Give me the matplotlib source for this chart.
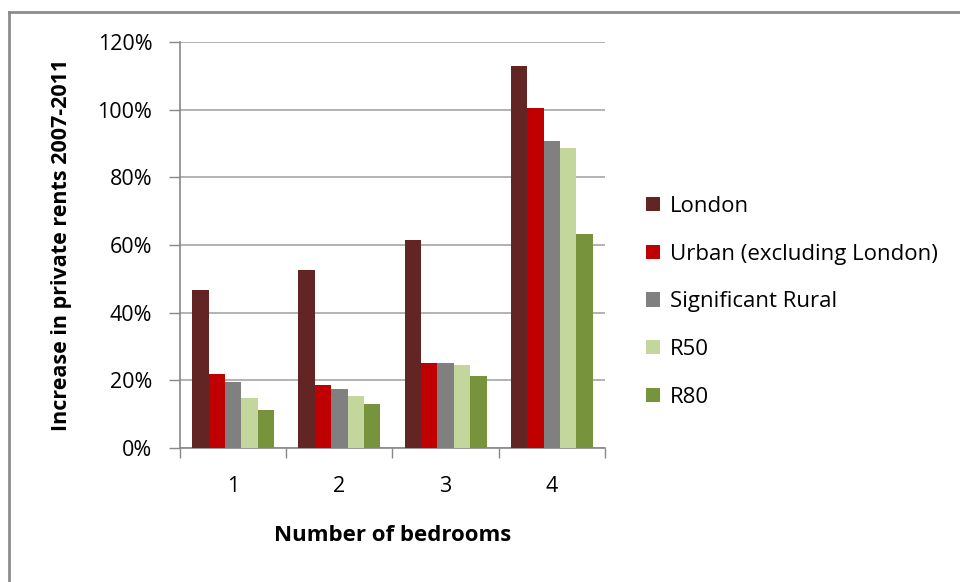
import numpy as np
import matplotlib.pyplot as plt
from matplotlib.lines import Line2D

plt.rcParams['font.family'] = ['Open Sans', 'DejaVu Sans']

bedrooms = ['1', '2', '3', '4']
series = ['London', 'Urban (excluding London)', 'Significant Rural', 'R50', 'R80']
london = [46.6, 52.7, 61.4, 113.0]
urban = [22.0, 18.6, 25.0, 100.5]
sig_rural = [19.4, 17.4, 25.0, 90.7]
r50 = [14.8, 15.5, 24.6, 88.8]
r80 = [11.3, 13.0, 21.3, 63.3]
colors = ['#632523', '#C00000', '#808080', '#C3D69B', '#77933C']

values = [london, urban, sig_rural, r50, r80]

fig = plt.figure(figsize=(9.6, 5.82), dpi=100)
ax = fig.add_axes([180 / 960, 1 - 448 / 582, 425 / 960, 406 / 582])

x = np.arange(len(bedrooms))
w = 0.154
for i, (name, vals, c) in enumerate(zip(series, values, colors)):
    ax.bar(x + (i - 2) * w, vals, width=w, color=c, label=name, zorder=3)

ax.set_xlim(-0.5, 3.5)
ax.set_ylim(0, 120)
ax.set_yticks(np.arange(0, 121, 20))
ax.set_yticklabels([f'{v}%' for v in range(0, 121, 20)])
ax.yaxis.grid(True, color='#a6a6a6', linewidth=1.2, zorder=0)

# category labels centred, tick marks on the boundaries
ax.set_xticks(x)
ax.set_xticklabels(bedrooms)
ax.tick_params(axis='x', length=0, pad=20, labelsize=15.5)
ax.set_xticks(np.arange(-0.5, 4.0, 1), minor=True)
ax.tick_params(axis='x', which='minor', length=7, color='#888888', width=1)
ax.tick_params(axis='y', length=8, color='#888888', width=1, labelsize=15.5, pad=12)

for s in ['top', 'right']:
    ax.spines[s].set_visible(False)
ax.spines['left'].set_color('#888888')
ax.spines['bottom'].set_color('#888888')
ax.spines['left'].set_linewidth(1.2)
ax.spines['bottom'].set_linewidth(1.2)

ax.set_xlabel('Number of bedrooms', fontsize=16, fontweight='bold', labelpad=20)
ax.set_ylabel('Increase in private rents 2007-2011', fontsize=15.5, fontweight='bold', labelpad=18)

ax.legend(loc='center left', bbox_to_anchor=(1.05, 0.36), frameon=False,
          fontsize=16, handlelength=0.6, handleheight=0.6, handletextpad=0.45,
          labelspacing=1.2)

# outer chart border (top and left visible)
fig.add_artist(Line2D([8.5 / 960, 8.5 / 960], [0, 1 - 12 / 582], color='#8c8c8c', lw=2))
fig.add_artist(Line2D([8.5 / 960, 1], [1 - 12 / 582, 1 - 12 / 582], color='#8c8c8c', lw=2))

fig.savefig('out.png', dpi=100)
